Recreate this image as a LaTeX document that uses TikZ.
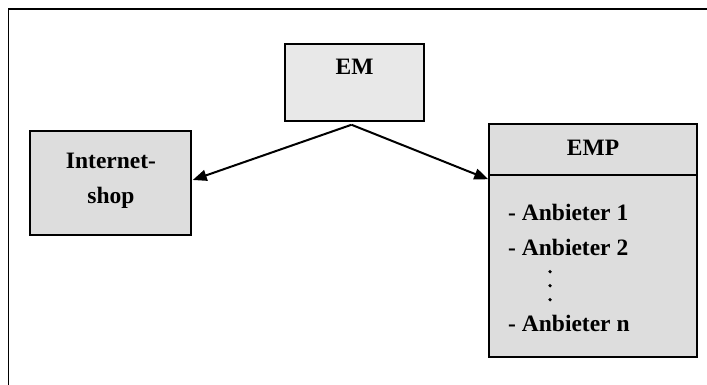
\documentclass[tikz,border=0pt]{standalone}
\usepackage{fontspec}
\setmainfont{Liberation Serif}
\usetikzlibrary{arrows.meta}
\definecolor{emfill}{RGB}{232,232,232}
\definecolor{boxfill}{RGB}{221,221,221}
\begin{document}
\begin{tikzpicture}[x=1pt,y=-1pt,
  box/.style={draw=black, line width=1.5pt, inner sep=0pt},
  lbl/.style={font=\fontsize{23.5}{35}\selectfont\bfseries, inner sep=0pt},
  dotmark/.style={circle, fill=black, inner sep=0pt, minimum size=3.6pt},
  arr/.style={line width=2pt, -{Triangle[length=14pt,width=11pt]}}]
\useasboundingbox (0,0) rectangle (707,385);
\draw[line width=1.5pt] (8.5,385) -- (8.5,9) -- (707,9);
% EM
\node[box, fill=emfill, minimum width=139pt, minimum height=77pt] (em) at (354.5,82.5) {};
\node[lbl] (emt) at (354.5,67) {EM};
% Internet-shop
\node[box, fill=boxfill, minimum width=161pt, minimum height=104pt] (shop) at (110.5,183) {};
\node[lbl, align=center] (shopt) at (111,180.5) {Internet-\\shop};
% EMP
\node[box, fill=boxfill, minimum width=208pt, minimum height=233pt] (emp) at (593,240.5) {};
\draw[line width=1.5pt] ([yshift=-52pt]emp.north west) -- ([yshift=-52pt]emp.north east);
\node[lbl] (empt) at (593,147.5) {EMP};
\node[lbl, anchor=base west] (a1) at (508,220.7) {- Anbieter 1};
\node[lbl, anchor=base west] (a2) at (508,255) {- Anbieter 2};
\node[lbl, anchor=base west] (an) at (508,331.7) {- Anbieter n};
\node[dotmark] (d1) at (550,271.7) {};
\node[dotmark] (d2) at (550,285.7) {};
\node[dotmark] (d3) at (550,299.7) {};
% arrows
\draw[arr] ([xshift=-3pt,yshift=-3pt]em.south) -- ([xshift=1pt,yshift=3pt]shop.east);
\draw[arr] ([xshift=-3pt,yshift=-3pt]em.south) -- ([yshift=-56pt]emp.north west);
\end{tikzpicture}
\end{document}
